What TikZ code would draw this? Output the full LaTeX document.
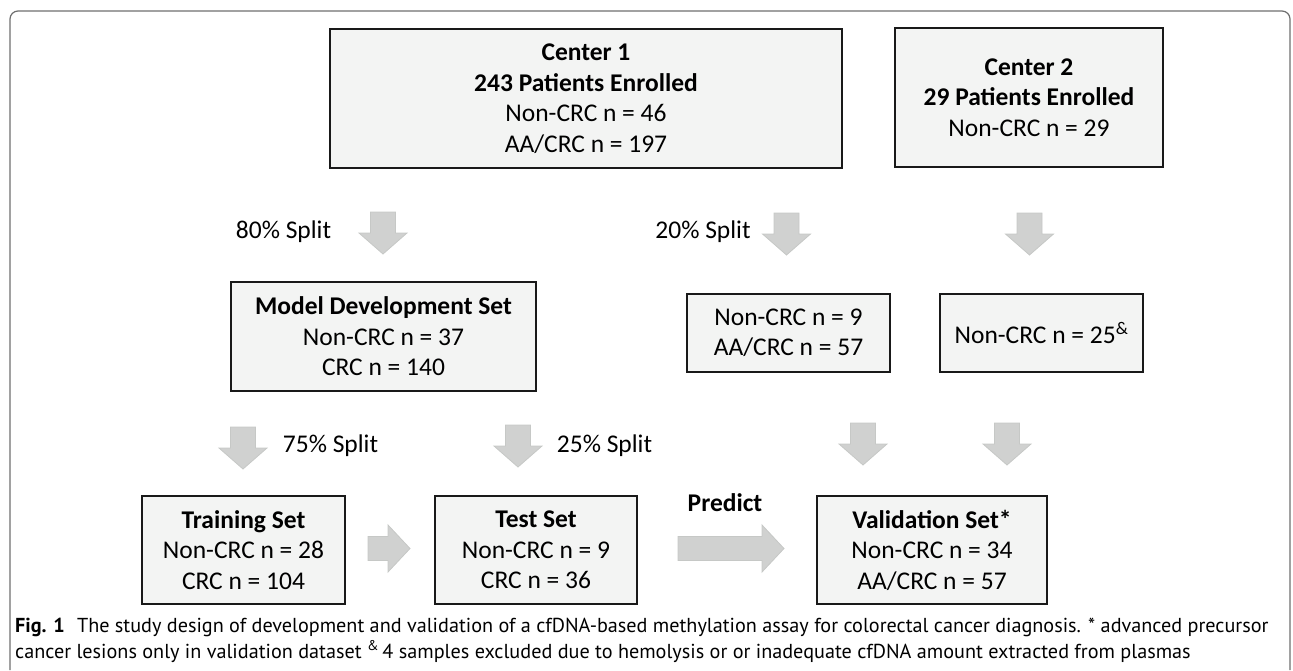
\documentclass[tikz,border=0pt]{standalone}
\usepackage{fontspec}
\setmainfont{Carlito}
\newfontfamily\capfont{PT Sans}
\newcommand\boxfont{\fontsize{25.5}{30.5}\selectfont}
\newcommand\captfont{\capfont\fontsize{20.2}{24}\selectfont}
\definecolor{boxfill}{HTML}{F3F4F3}
\definecolor{arrfill}{HTML}{D0D1D0}
\definecolor{arrline}{HTML}{C6C8C6}
\definecolor{framec}{HTML}{6E6E6E}
\begin{document}
\begin{tikzpicture}[x=1pt,y=-1pt,
  box/.style={draw=black!90, line width=1.6pt, fill=boxfill, align=center, inner sep=0pt, font=\boxfont},
  lbl/.style={font=\boxfont, inner sep=0pt},
  captxt/.style={anchor=base west, inner sep=0pt, font=\captfont},
  blockarrow/.style={fill=arrfill, draw=arrline, line width=0.8pt, line join=miter},
  darrow/.pic={\path[blockarrow] (-12.5,0) -- (12.5,0) -- (12.5,21) -- (24,21) -- (0,42) -- (-24,21) -- (-12.5,21) -- cycle;}
]
\useasboundingbox (0,0) rectangle (1293,670);
% outer frame
\draw[framec, line width=1.2pt, rounded corners=8pt] (10,670) -- (10,11) -- (1290,11) -- (1290,670);

% boxes
\node[box, minimum width=512, minimum height=139] (c1) at (586,98.5)
  {\textbf{Center 1}\\\textbf{243 Patients Enrolled}\\Non-CRC n = 46\\AA/CRC n = 197};
\node[box, minimum width=268, minimum height=139] (c2) at (1029,97.5)
  {\textbf{Center 2}\\\textbf{29 Patients Enrolled}\\Non-CRC n = 29};
\node[box, minimum width=305, minimum height=109] (md) at (383.5,336.5)
  {\textbf{Model Development Set}\\Non-CRC n = 37\\CRC n = 140};
\node[box, minimum width=203, minimum height=78] (m1) at (788.5,333)
  {Non-CRC n = 9\\AA/CRC n = 57};
\node[box, minimum width=203, minimum height=78] (m2) at (1041.5,333)
  {Non-CRC n = 25\textsuperscript{\&}};
\node[box, minimum width=203, minimum height=108] (tr) at (243.5,550)
  {\textbf{Training Set}\\Non-CRC n = 28\\CRC n = 104};
\node[box, minimum width=202, minimum height=108] (te) at (536,550)
  {\textbf{Test Set}\\Non-CRC n = 9\\CRC n = 36};
\node[box, minimum width=230, minimum height=108] (va) at (932,550)
  {\textbf{Validation Set*}\\Non-CRC n = 34\\AA/CRC n = 57};

% down block arrows
\pic at (383,212) {darrow};
\pic at (786.5,213) {darrow};
\pic at (1029.5,213) {darrow};
\pic at (243,427) {darrow};
\pic at (518,425) {darrow};
\pic at (863,423) {darrow};
\pic at (1007,423) {darrow};
% right block arrows
\path[blockarrow] (368,536.5) -- (388,536.5) -- (388,525) -- (410,548.5) -- (388,572) -- (388,560.5) -- (368,560.5) -- cycle;
\path[blockarrow] (678,536.5) -- (762,536.5) -- (762,525) -- (784,548.5) -- (762,572) -- (762,560.5) -- (678,560.5) -- cycle;

% labels
\node[lbl] (s80) at (283.5,232) {80\% Split};
\node[lbl] (s20) at (703,232) {20\% Split};
\node[lbl] (s75) at (330.5,446) {75\% Split};
\node[lbl] (s25) at (604.5,446) {25\% Split};
\node[lbl] (pred) at (725,503) {\textbf{Predict}};

% caption
\node[captxt] (cap1) at (15,632)
  {\textbf{Fig. 1}\hspace{0.6em}The study design of development and validation of a cfDNA-based methylation assay for colorectal cancer diagnosis. * advanced precursor};
\node[captxt] (cap2) at (15,658)
  {cancer lesions only in validation dataset \textsuperscript{\&}\,4 samples excluded due to hemolysis or or inadequate cfDNA amount extracted from plasmas};
\end{tikzpicture}
\end{document}
